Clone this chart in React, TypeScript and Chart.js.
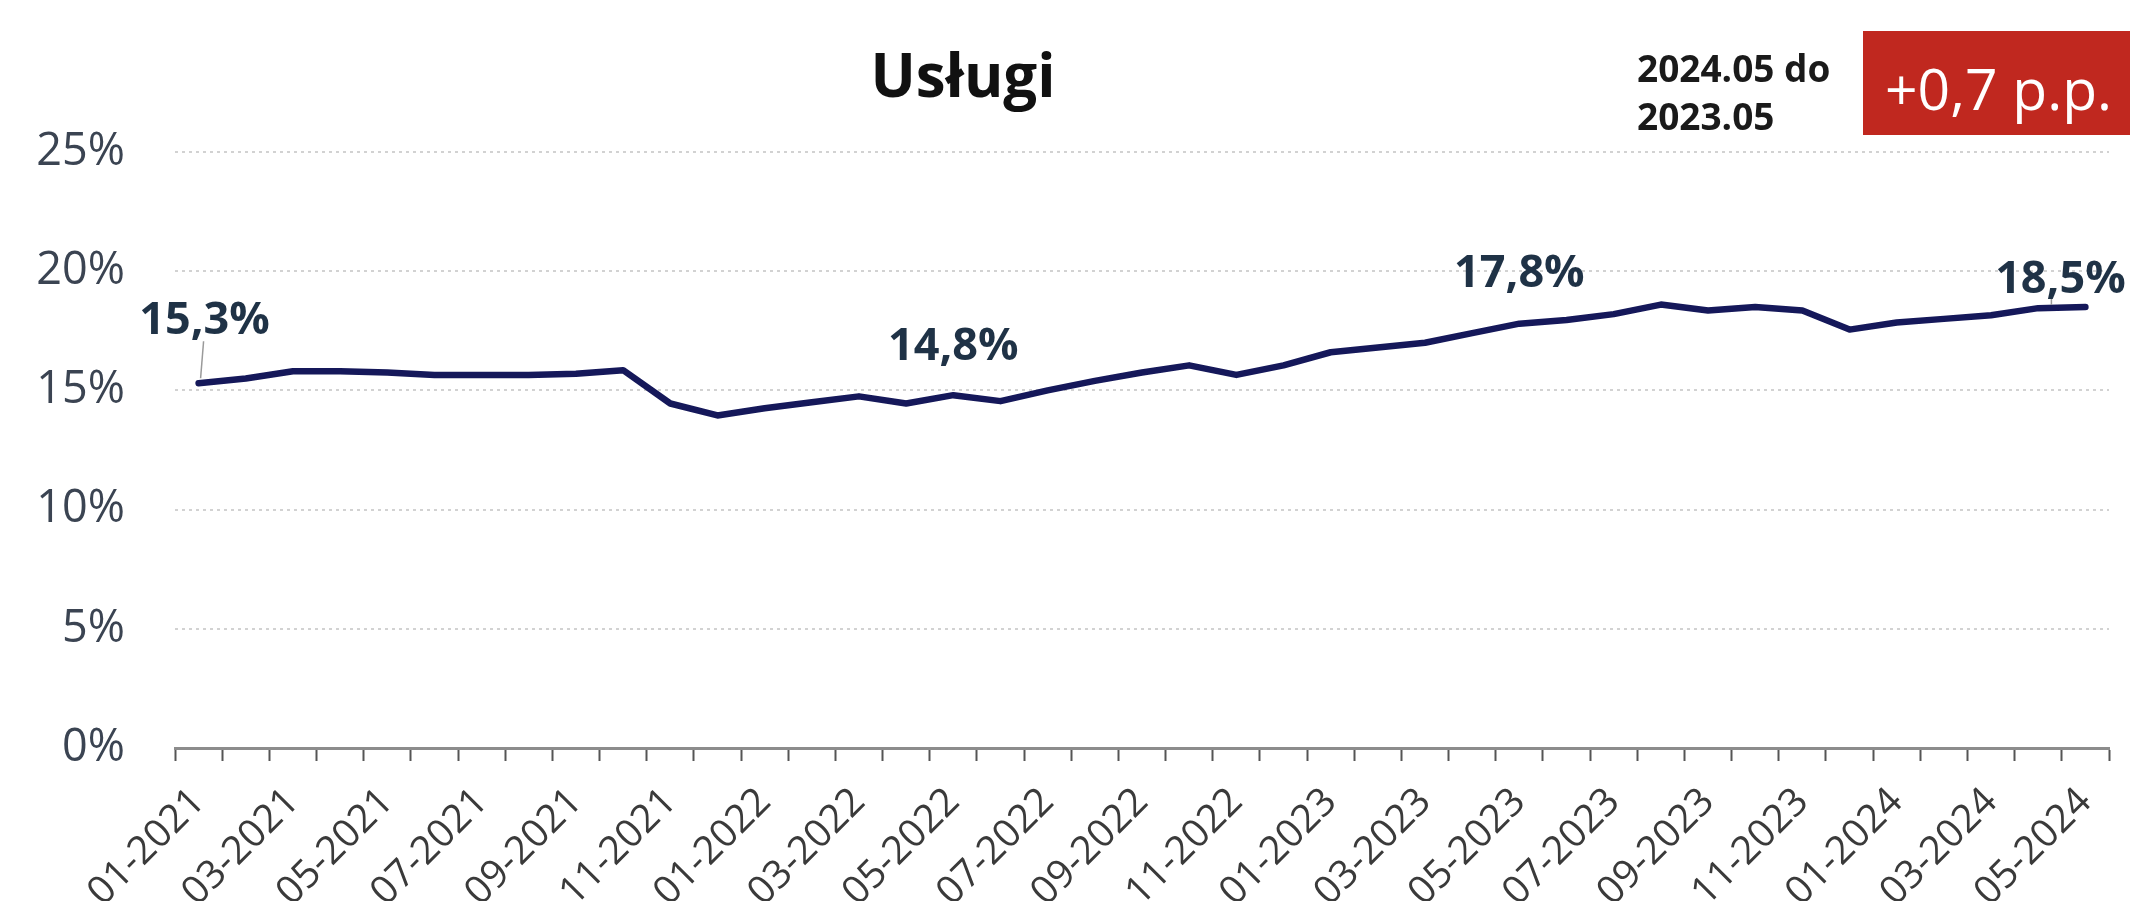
import React, { useEffect, useRef } from 'react';
import { Chart, registerables } from 'chart.js';

Chart.register(...registerables);

// ---------- data ----------
const categories = [
  '01-2021', '02-2021', '03-2021', '04-2021', '05-2021', '06-2021', '07-2021', '08-2021', '09-2021', '10-2021', '11-2021', '12-2021',
  '01-2022', '02-2022', '03-2022', '04-2022', '05-2022', '06-2022', '07-2022', '08-2022', '09-2022', '10-2022', '11-2022', '12-2022',
  '01-2023', '02-2023', '03-2023', '04-2023', '05-2023', '06-2023', '07-2023', '08-2023', '09-2023', '10-2023', '11-2023', '12-2023',
  '01-2024', '02-2024', '03-2024', '04-2024', '05-2024',
];

const servicesShare = [
  15.3, 15.5, 15.8, 15.8, 15.75, 15.65, 15.65, 15.65, 15.7, 15.85, 14.45, 13.95,
  14.25, 14.5, 14.75, 14.45, 14.8, 14.55, 15.0, 15.4, 15.75, 16.05, 15.65, 16.05,
  16.6, 16.8, 17.0, 17.4, 17.8, 17.95, 18.2, 18.6, 18.35, 18.5, 18.35, 17.55,
  17.85, 18.0, 18.15, 18.45, 18.5,
];

const yTickValues = [0, 5, 10, 15, 20, 25];
const labeledPoints = [0, 16, 28, 40];
const chartTitle = 'Usługi';
const compareText = ['2024.05 do', '2023.05'];
const changeText = '+0,7 p.p.';

// ---------- styling ----------
const FONT = "'Open Sans', 'Noto Sans', sans-serif";
const LINE_COLOR = '#15185a';
const LABEL_COLOR = '#1f3246';

// label placement relative to its point (layout, not data)
const labelPlacement: Record<number, { dx: number; dy: number; leader?: [number, number, number, number] }> = {
  0: { dx: 6, dy: -62, leader: [5, -42, 2, -5] },
  16: { dx: 0, dy: -48 },
  28: { dx: 0, dy: -49 },
  40: { dx: -25, dy: -27, leader: [-34, -10, -34, -2] },
};

const fmt = (v: number) => v.toFixed(1).replace('.', ',') + '%';

const overlayPlugin = {
  id: 'overlay',
  afterDatasetsDraw(chart: any) {
    const ctx = chart.ctx as CanvasRenderingContext2D;
    const meta = chart.getDatasetMeta(0);
    ctx.save();
    labeledPoints.forEach((idx) => {
      const pt = meta.data[idx];
      if (!pt) return;
      const pl = labelPlacement[idx] || { dx: 0, dy: -48 };
      if (pl.leader) {
        ctx.strokeStyle = '#9a9a9a';
        ctx.lineWidth = 1.5;
        ctx.beginPath();
        ctx.moveTo(pt.x + pl.leader[0], pt.y + pl.leader[1]);
        ctx.lineTo(pt.x + pl.leader[2], pt.y + pl.leader[3]);
        ctx.stroke();
      }
      ctx.font = `bold 45px ${FONT}`;
      ctx.fillStyle = LABEL_COLOR;
      ctx.textAlign = 'center';
      ctx.textBaseline = 'middle';
      ctx.fillText(fmt(servicesShare[idx]), pt.x + pl.dx, pt.y + pl.dy);
    });
    ctx.restore();
  },
  afterDraw(chart: any) {
    const ctx = chart.ctx as CanvasRenderingContext2D;
    ctx.save();
    // title
    ctx.font = `bold 60px ${FONT}`;
    ctx.fillStyle = '#111111';
    ctx.textAlign = 'center';
    ctx.textBaseline = 'alphabetic';
    ctx.fillText(chartTitle, 963, 97);
    // comparison text
    ctx.font = `bold 37px ${FONT}`;
    ctx.fillStyle = '#1a1a1a';
    ctx.textAlign = 'left';
    ctx.fillText(compareText[0], 1637, 82);
    ctx.fillText(compareText[1], 1637, 130);
    // red box
    ctx.fillStyle = '#c0281f';
    ctx.fillRect(1863, 31, 2130 - 1863, 104);
    ctx.font = `57px ${FONT}`;
    ctx.fillStyle = '#ffffff';
    ctx.fillText(changeText, 1885, 110);
    ctx.restore();
  },
};

export default function App() {
  const canvasRef = useRef<HTMLCanvasElement | null>(null);

  useEffect(() => {
    document.body.style.margin = '0';
    document.body.style.background = '#ffffff';
    const canvas = canvasRef.current;
    if (!canvas) return;
    const chart = new Chart(canvas, {
      type: 'line',
      data: {
        labels: categories,
        datasets: [
          {
            label: chartTitle,
            data: servicesShare,
            borderColor: LINE_COLOR,
            backgroundColor: LINE_COLOR,
            borderWidth: 6.5,
            pointRadius: 0,
            tension: 0,
            fill: false,
            borderJoinStyle: 'round',
            borderCapStyle: 'round',
          },
        ],
      },
      options: {
        animation: false,
        responsive: false,
        devicePixelRatio: 1,
        layout: { padding: { top: 152, right: 21, bottom: 0, left: 0 } },
        plugins: {
          legend: { display: false },
          title: { display: false },
          tooltip: { enabled: false },
        },
        scales: {
          x: {
            offset: true,
            grid: {
              offset: true,
              drawOnChartArea: false,
              drawTicks: true,
              tickLength: 13,
              tickColor: '#555555',
              tickWidth: 2,
            },
            border: { display: true, color: '#8c8c8c', width: 3 },
            ticks: {
              autoSkip: false,
              maxRotation: 45,
              minRotation: 45,
              padding: 18,
              color: '#3a3a3a',
              font: { family: FONT, size: 39 },
              callback: (_v: any, i: number) => (i % 2 === 0 ? categories[i] : ''),
            },
            afterFit: (s: any) => {
              s.height = 153;
              s.paddingLeft = 0;
              s.paddingRight = 0;
            },
          },
          y: {
            min: yTickValues[0],
            max: yTickValues[yTickValues.length - 1],
            afterBuildTicks: (s: any) => {
              s.ticks = yTickValues.map((v) => ({ value: v }));
            },
            ticks: {
              padding: 50,
              color: '#3b4452',
              font: { family: FONT, size: 45 },
              callback: (v: any) => `${v}%`,
            },
            grid: { color: '#d2d2d2', lineWidth: 2, drawTicks: false },
            border: { display: false, dash: [3, 4] },
            afterFit: (s: any) => {
              s.width = 175;
            },
          },
        },
      },
      plugins: [overlayPlugin],
    } as any);
    return () => chart.destroy();
  }, []);

  return (
    <div style={{ width: 2130, height: 901, position: 'relative', background: '#fff' }}>
      <canvas ref={canvasRef} width={2130} height={901} style={{ display: 'block' }} />
    </div>
  );
}
